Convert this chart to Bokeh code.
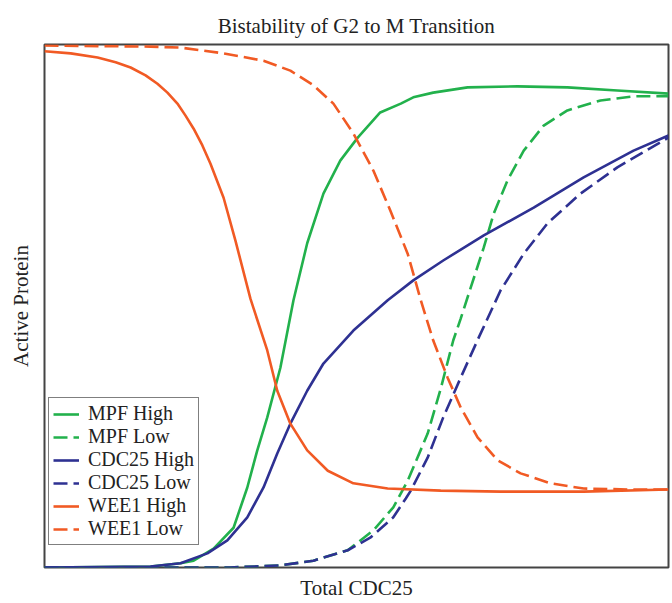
from bokeh.plotting import figure
from bokeh.models import Range1d, FixedTicker, Legend, LegendItem
from bokeh.embed import file_html
from bokeh.resources import INLINE

# ---- data (Total CDC25 in arbitrary units 0-100, Active Protein 0-1) ----
mpf_high_x = [0, 17.0, 21.8, 23.9, 27.1, 30.3, 32.5, 34.1, 35.7, 37.8, 39.9, 42.1, 44.7, 47.4,
              50.2, 53.8, 57.1, 59.1, 62.3, 67.8, 75.8, 83.8, 91.8, 100]
mpf_high_y = [0, 0.002, 0.008, 0.013, 0.036, 0.076, 0.153, 0.224, 0.287, 0.382, 0.511, 0.620,
              0.715, 0.778, 0.822, 0.870, 0.887, 0.899, 0.908, 0.918, 0.920, 0.918, 0.912, 0.906]

mpf_low_x = [0, 17.0, 29.8, 37.8, 43.1, 48.6, 52.7, 55.9, 58.2, 59.1, 61.4, 63.5, 65.5, 66.7,
             68.3, 70.4, 72.0, 74.2, 76.8, 80.0, 83.8, 89.1, 94.4, 100]
mpf_low_y = [0, 0, 0, 0.004, 0.013, 0.033, 0.071, 0.115, 0.166, 0.191, 0.256, 0.342, 0.434,
             0.476, 0.535, 0.612, 0.677, 0.740, 0.797, 0.845, 0.874, 0.893, 0.901, 0.901]

cdc25_high_x = [0, 17.0, 21.8, 26.1, 29.3, 32.5, 35.1, 37.3, 39.4, 42.1, 44.7, 49.5, 55.0, 59.1,
                63.9, 70.4, 78.4, 86.4, 94.4, 100]
cdc25_high_y = [0, 0.002, 0.008, 0.027, 0.052, 0.096, 0.153, 0.218, 0.275, 0.338, 0.390, 0.453,
                0.511, 0.549, 0.587, 0.635, 0.688, 0.746, 0.797, 0.826]

cdc25_low_x = [0, 29.8, 37.8, 43.1, 48.6, 52.2, 55.9, 57.9, 58.7, 61.4, 63.9, 66.7, 69.6, 73.1,
               76.8, 80.6, 85.9, 91.8, 98.7, 100]
cdc25_low_y = [0, 0, 0.004, 0.013, 0.033, 0.057, 0.096, 0.132, 0.147, 0.210, 0.287, 0.363, 0.440,
               0.530, 0.600, 0.658, 0.715, 0.765, 0.813, 0.822]

wee1_high_x = [0, 4.2, 8.5, 11.4, 13.8, 16.2, 18.1, 19.7, 21.3, 22.6, 23.9, 25.3, 26.6, 28.7,
               30.6, 33.0, 35.7, 37.3, 39.4, 42.1, 45.4, 49.5, 55.0, 63.5, 73.1, 86.4, 100]
wee1_high_y = [0.987, 0.983, 0.975, 0.966, 0.956, 0.941, 0.925, 0.908, 0.887, 0.864, 0.839, 0.807,
               0.772, 0.707, 0.625, 0.514, 0.415, 0.338, 0.275, 0.224, 0.185, 0.161, 0.151, 0.147,
               0.145, 0.145, 0.149]

wee1_low_x = [0, 17.0, 21.8, 28.7, 35.1, 39.4, 43.1, 46.3, 49.5, 52.7, 55.4, 58.2, 60.3, 62.3,
              64.6, 66.7, 69.4, 72.6, 76.3, 81.1, 86.4, 94.4, 100]
wee1_low_y = [0.998, 0.996, 0.994, 0.983, 0.969, 0.950, 0.922, 0.887, 0.830, 0.759, 0.683, 0.600,
              0.511, 0.434, 0.363, 0.306, 0.249, 0.205, 0.180, 0.161, 0.151, 0.149, 0.149]

labels = ["MPF High", "MPF Low", "CDC25 High", "CDC25 Low", "WEE1 High", "WEE1 Low"]

GREEN = "#22b14c"
BLUE = "#2e3192"
RED = "#f15a24"
FONT = "Liberation Serif"
DASH = "14 6"

p = figure(width=670, height=603, output_backend="svg", toolbar_location=None,
           x_range=Range1d(0, 100), y_range=Range1d(0, 1),
           min_border_left=44, min_border_right=2, min_border_top=44, min_border_bottom=36)

p.title.text = "Bistability of G2 to M Transition"
p.title.align = "center"
p.title.text_font = FONT
p.title.text_font_size = "21px"
p.title.text_font_style = "normal"
p.title.text_color = "#222222"
p.title.standoff = 13

for ax in (p.xaxis, p.yaxis):
    ax.ticker = FixedTicker(ticks=[])
    ax.major_tick_line_color = None
    ax.minor_tick_line_color = None
    ax.axis_line_color = None
    ax.major_label_text_font_size = "0px"
    ax.axis_label_text_font = FONT
    ax.axis_label_text_font_size = "21px"
    ax.axis_label_text_font_style = "normal"
    ax.axis_label_text_color = "#222222"

p.xaxis.axis_label = "Total CDC25"
p.yaxis.axis_label = "Active Protein"
p.xaxis.axis_label_standoff = 8
p.yaxis.axis_label_standoff = 12

p.xgrid.visible = False
p.ygrid.visible = False
p.outline_line_color = "#444444"
p.outline_line_width = 2

W = 2.6
r1 = p.line(mpf_high_x, mpf_high_y, line_color=GREEN, line_width=W)
r2 = p.line(mpf_low_x, mpf_low_y, line_color=GREEN, line_width=W, line_dash=DASH)
r3 = p.line(cdc25_high_x, cdc25_high_y, line_color=BLUE, line_width=W)
r4 = p.line(cdc25_low_x, cdc25_low_y, line_color=BLUE, line_width=W, line_dash=DASH)
r5 = p.line(wee1_high_x, wee1_high_y, line_color=RED, line_width=W)
r6 = p.line(wee1_low_x, wee1_low_y, line_color=RED, line_width=W, line_dash=DASH)

items = [LegendItem(label=l, renderers=[r]) for l, r in zip(labels, [r1, r2, r3, r4, r5, r6])]
legend = Legend(items=items, location=(4, 22))
legend.label_text_font = FONT
legend.label_text_font_size = "20px"
legend.label_text_color = "#222222"
legend.label_height = 18
legend.glyph_height = 18
legend.glyph_width = 26
legend.label_standoff = 9
legend.spacing = 0
legend.padding = 4
legend.margin = 0
legend.border_line_color = "black"
legend.border_line_width = 1.5
legend.background_fill_color = "white"
legend.background_fill_alpha = 1.0
p.add_layout(legend, "center")

open("out.html", "w").write(file_html(p, INLINE))
